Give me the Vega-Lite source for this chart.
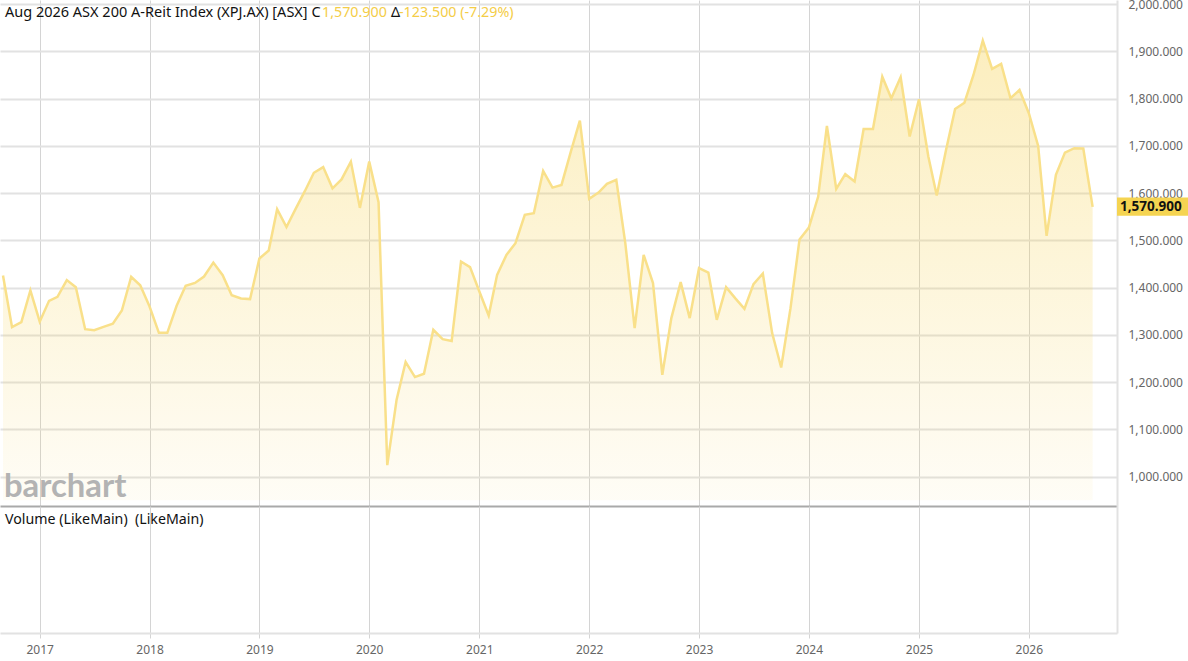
{
  "$schema": "https://vega.github.io/schema/vega-lite/v6.json",
  "background": "white",
  "padding": {"top": -2, "left": -2, "right": 0, "bottom": 0},
  "spacing": 0,
  "config": {
    "font": "Noto Sans",
    "view": {"stroke": null},
    "concat": {"spacing": 0}
  },
  "datasets": {
    "prices": [
      {"date": "2016-09-01", "close": 1425.6}, {"date": "2016-10-01", "close": 1316.5}, {"date": "2016-11-01", "close": 1327.0}, {"date": "2016-12-01", "close": 1394.0},
      {"date": "2017-01-01", "close": 1328.0}, {"date": "2017-02-01", "close": 1372.0}, {"date": "2017-03-01", "close": 1380.5}, {"date": "2017-04-01", "close": 1416.0},
      {"date": "2017-05-01", "close": 1401.0}, {"date": "2017-06-01", "close": 1312.0}, {"date": "2017-07-01", "close": 1310.0}, {"date": "2017-08-01", "close": 1317.0},
      {"date": "2017-09-01", "close": 1323.5}, {"date": "2017-10-01", "close": 1351.5}, {"date": "2017-11-01", "close": 1423.0}, {"date": "2017-12-01", "close": 1405.0},
      {"date": "2018-01-01", "close": 1360.0}, {"date": "2018-02-01", "close": 1304.4}, {"date": "2018-03-01", "close": 1304.4}, {"date": "2018-04-01", "close": 1361.5},
      {"date": "2018-05-01", "close": 1404.0}, {"date": "2018-06-01", "close": 1410.0}, {"date": "2018-07-01", "close": 1423.5}, {"date": "2018-08-01", "close": 1453.0},
      {"date": "2018-09-01", "close": 1426.4}, {"date": "2018-10-01", "close": 1384.0}, {"date": "2018-11-01", "close": 1377.0}, {"date": "2018-12-01", "close": 1375.7},
      {"date": "2019-01-01", "close": 1461.5}, {"date": "2019-02-01", "close": 1478.5}, {"date": "2019-03-01", "close": 1566.0}, {"date": "2019-04-01", "close": 1528.0},
      {"date": "2019-05-01", "close": 1566.0}, {"date": "2019-06-01", "close": 1604.0}, {"date": "2019-07-01", "close": 1643.0}, {"date": "2019-08-01", "close": 1655.0},
      {"date": "2019-09-01", "close": 1610.0}, {"date": "2019-10-01", "close": 1629.0}, {"date": "2019-11-01", "close": 1666.6}, {"date": "2019-12-01", "close": 1568.7},
      {"date": "2020-01-01", "close": 1666.6}, {"date": "2020-02-01", "close": 1580.7}, {"date": "2020-03-01", "close": 1024.5}, {"date": "2020-04-01", "close": 1163.0},
      {"date": "2020-05-01", "close": 1242.5}, {"date": "2020-06-01", "close": 1210.8}, {"date": "2020-07-01", "close": 1217.8}, {"date": "2020-08-01", "close": 1310.8},
      {"date": "2020-09-01", "close": 1291.1}, {"date": "2020-10-01", "close": 1286.9}, {"date": "2020-11-01", "close": 1455.2}, {"date": "2020-12-01", "close": 1443.3},
      {"date": "2021-01-01", "close": 1391.8}, {"date": "2021-02-01", "close": 1341.0}, {"date": "2021-03-01", "close": 1427.0}, {"date": "2021-04-01", "close": 1469.3},
      {"date": "2021-05-01", "close": 1494.0}, {"date": "2021-06-01", "close": 1553.9}, {"date": "2021-07-01", "close": 1557.4}, {"date": "2021-08-01", "close": 1646.9},
      {"date": "2021-09-01", "close": 1611.6}, {"date": "2021-10-01", "close": 1617.3}, {"date": "2021-11-01", "close": 1687.7}, {"date": "2021-12-01", "close": 1753.3},
      {"date": "2022-01-01", "close": 1587.7}, {"date": "2022-02-01", "close": 1601.1}, {"date": "2022-03-01", "close": 1619.5}, {"date": "2022-04-01", "close": 1627.9},
      {"date": "2022-05-01", "close": 1494.0}, {"date": "2022-06-01", "close": 1314.4}, {"date": "2022-07-01", "close": 1469.3}, {"date": "2022-08-01", "close": 1409.5},
      {"date": "2022-09-01", "close": 1215.6}, {"date": "2022-10-01", "close": 1335.5}, {"date": "2022-11-01", "close": 1411.6}, {"date": "2022-12-01", "close": 1335.5},
      {"date": "2023-01-01", "close": 1441.2}, {"date": "2023-02-01", "close": 1432.0}, {"date": "2023-03-01", "close": 1331.9}, {"date": "2023-04-01", "close": 1401.0},
      {"date": "2023-05-01", "close": 1377.8}, {"date": "2023-06-01", "close": 1355.2}, {"date": "2023-07-01", "close": 1407.4}, {"date": "2023-08-01", "close": 1429.8},
      {"date": "2023-09-01", "close": 1303.8}, {"date": "2023-10-01", "close": 1231.1}, {"date": "2023-11-01", "close": 1356.6}, {"date": "2023-12-01", "close": 1502.0},
      {"date": "2024-01-01", "close": 1527.0}, {"date": "2024-02-01", "close": 1592.6}, {"date": "2024-03-01", "close": 1742.0}, {"date": "2024-04-01", "close": 1608.9},
      {"date": "2024-05-01", "close": 1640.0}, {"date": "2024-06-01", "close": 1624.5}, {"date": "2024-07-01", "close": 1735.7}, {"date": "2024-08-01", "close": 1735.7},
      {"date": "2024-09-01", "close": 1846.3}, {"date": "2024-10-01", "close": 1800.5}, {"date": "2024-11-01", "close": 1845.0}, {"date": "2024-12-01", "close": 1719.6},
      {"date": "2025-01-01", "close": 1798.4}, {"date": "2025-02-01", "close": 1677.4}, {"date": "2025-03-01", "close": 1594.7}, {"date": "2025-04-01", "close": 1691.5},
      {"date": "2025-05-01", "close": 1777.9}, {"date": "2025-06-01", "close": 1791.3}, {"date": "2025-07-01", "close": 1849.9}, {"date": "2025-08-01", "close": 1922.4},
      {"date": "2025-09-01", "close": 1862.6}, {"date": "2025-10-01", "close": 1873.2}, {"date": "2025-11-01", "close": 1800.6}, {"date": "2025-12-01", "close": 1818.2},
      {"date": "2026-01-01", "close": 1769.0}, {"date": "2026-02-01", "close": 1699.8}, {"date": "2026-03-01", "close": 1509.5}, {"date": "2026-04-01", "close": 1638.5},
      {"date": "2026-05-01", "close": 1685.6}, {"date": "2026-06-01", "close": 1694.9}, {"date": "2026-07-01", "close": 1694.4}, {"date": "2026-08-01", "close": 1570.9}
    ]
  },
  "resolve": {"scale": {"x": "independent", "y": "independent"}},
  "vconcat": [
    {
      "width": 1117,
      "height": 506,
      "layer": [
        {
          "data": {"name": "prices"},
          "mark": {
            "type": "area",
            "color": {
              "gradient": "linear", "x1": 0, "y1": 0, "x2": 0, "y2": 1,
              "stops": [
                {"offset": 0, "color": "rgba(246,208,75,0.36)"},
                {"offset": 1, "color": "rgba(246,208,75,0.05)"}
              ]
            }
          },
          "encoding": {
            "x": {
              "field": "date", "type": "temporal",
              "scale": {"type": "utc", "domain": [{"year": 2016, "month": 8, "date": 22, "utc": true}, {"year": 2026, "month": 10, "date": 21, "utc": true}]},
              "axis": {"title": null, "labels": false, "ticks": false, "grid": true, "gridColor": "#d4d4d4", "gridWidth": 1,
                       "tickCount": {"interval": "year", "step": 1}, "domain": true, "domainColor": "#a9a9a9", "domainWidth": 2}
            },
            "y": {
              "field": "close", "type": "quantitative",
              "scale": {"domain": [938, 2008.5], "nice": false, "zero": false},
              "axis": {"orient": "right", "title": null, "values": [1000, 1100, 1200, 1300, 1400, 1500, 1600, 1700, 1800, 1900, 2000],
                       "format": ",.3f", "ticks": false, "labelPadding": 11, "labelColor": "#666666", "labelFontSize": 12,
                       "grid": true, "gridColor": "#e2e2e2", "gridWidth": 2, "domain": true, "domainColor": "#e2e2e2", "domainWidth": 2}
            },
            "y2": {"datum": 950}
          }
        },
        {
          "data": {"name": "prices"},
          "mark": {"type": "line", "color": "#f9e08a", "strokeWidth": 2.5},
          "encoding": {
            "x": {"field": "date", "type": "temporal"},
            "y": {"field": "close", "type": "quantitative"}
          }
        },
        {
          "data": {"values": [{"label": "barchart"}]},
          "mark": {"type": "text", "align": "left", "baseline": "alphabetic", "dx": 4, "font": "Lato", "fontWeight": "bold", "fontSize": 32.8, "color": "#b3b3b3"},
          "encoding": {
            "x": {"datum": {"year": 2016, "month": 8, "date": 22, "utc": true}, "type": "temporal"},
            "y": {"datum": 957},
            "text": {"field": "label"}
          }
        },
        {
          "data": {"values": [{"label": "Aug 2026 ASX 200 A-Reit Index (XPJ.AX) [ASX] C"}]},
          "mark": {"type": "text", "align": "left", "baseline": "alphabetic", "dx": 5, "fontSize": 14.5, "color": "#111111"},
          "encoding": {
            "x": {"datum": {"year": 2016, "month": 8, "date": 22, "utc": true}, "type": "temporal"},
            "y": {"datum": 1973.2},
            "text": {"field": "label"}
          }
        },
        {
          "data": {"values": [{"label": "1,570.900"}]},
          "mark": {"type": "text", "align": "left", "baseline": "alphabetic", "dx": 322, "fontSize": 14.3, "color": "#f4cd47"},
          "encoding": {
            "x": {"datum": {"year": 2016, "month": 8, "date": 22, "utc": true}, "type": "temporal"},
            "y": {"datum": 1973.2},
            "text": {"field": "label"}
          }
        },
        {
          "data": {"values": [{"label": "Δ"}]},
          "mark": {"type": "text", "align": "left", "baseline": "alphabetic", "dx": 391, "fontSize": 14.3, "color": "#111111"},
          "encoding": {
            "x": {"datum": {"year": 2016, "month": 8, "date": 22, "utc": true}, "type": "temporal"},
            "y": {"datum": 1973.2},
            "text": {"field": "label"}
          }
        },
        {
          "data": {"values": [{"label": "-123.500 (-7.29%)"}]},
          "mark": {"type": "text", "align": "left", "baseline": "alphabetic", "dx": 399, "fontSize": 14.3, "color": "#f4cd47"},
          "encoding": {
            "x": {"datum": {"year": 2016, "month": 8, "date": 22, "utc": true}, "type": "temporal"},
            "y": {"datum": 1973.2},
            "text": {"field": "label"}
          }
        },
        {
          "data": {"values": [{"last": 1570.9}]},
          "mark": {"type": "rect", "color": "#f5d451", "clip": false},
          "encoding": {
            "x": {"datum": {"year": 2026, "month": 10, "date": 21, "utc": true}, "type": "temporal"},
            "x2": {"datum": {"year": 2027, "month": 6, "date": 14, "utc": true}},
            "y": {"datum": 1552},
            "y2": {"datum": 1590.5}
          }
        },
        {
          "data": {"values": [{"last": 1570.9}]},
          "mark": {"type": "text", "align": "left", "baseline": "middle", "dx": 3, "fontSize": 13.5, "fontWeight": "bold", "color": "#111111"},
          "encoding": {
            "x": {"datum": {"year": 2026, "month": 10, "date": 21, "utc": true}, "type": "temporal"},
            "y": {"field": "last", "type": "quantitative"},
            "text": {"field": "last", "type": "quantitative", "format": ",.3f"}
          }
        }
      ]
    },
    {
      "width": 1117,
      "height": 127,
      "data": {"values": [{"label": "Volume (LikeMain) \u00a0(LikeMain)"}]},
      "mark": {"type": "text", "align": "left", "baseline": "alphabetic", "dx": 5, "fontSize": 14.2, "color": "#111111"},
      "encoding": {
        "x": {
          "datum": {"year": 2016, "month": 8, "date": 22, "utc": true}, "type": "temporal",
          "scale": {"type": "utc", "domain": [{"year": 2016, "month": 8, "date": 22, "utc": true}, {"year": 2026, "month": 10, "date": 21, "utc": true}]},
          "axis": {"title": null, "format": "%Y", "tickCount": {"interval": "year", "step": 1}, "grid": true, "gridColor": "#d4d4d4", "gridWidth": 1,
                   "ticks": true, "tickColor": "#d4d4d4", "tickSize": 5, "labelPadding": 6, "labelColor": "#666666", "labelFontSize": 12,
                   "domain": true, "domainColor": "#e2e2e2", "domainWidth": 2}
        },
        "y": {
          "datum": 109, "type": "quantitative",
          "scale": {"domain": [0, 127], "nice": false},
          "axis": {"orient": "right", "title": null, "labels": false, "ticks": false, "grid": false, "domain": true, "domainColor": "#e2e2e2", "domainWidth": 2}
        },
        "text": {"field": "label"}
      }
    }
  ]
}
